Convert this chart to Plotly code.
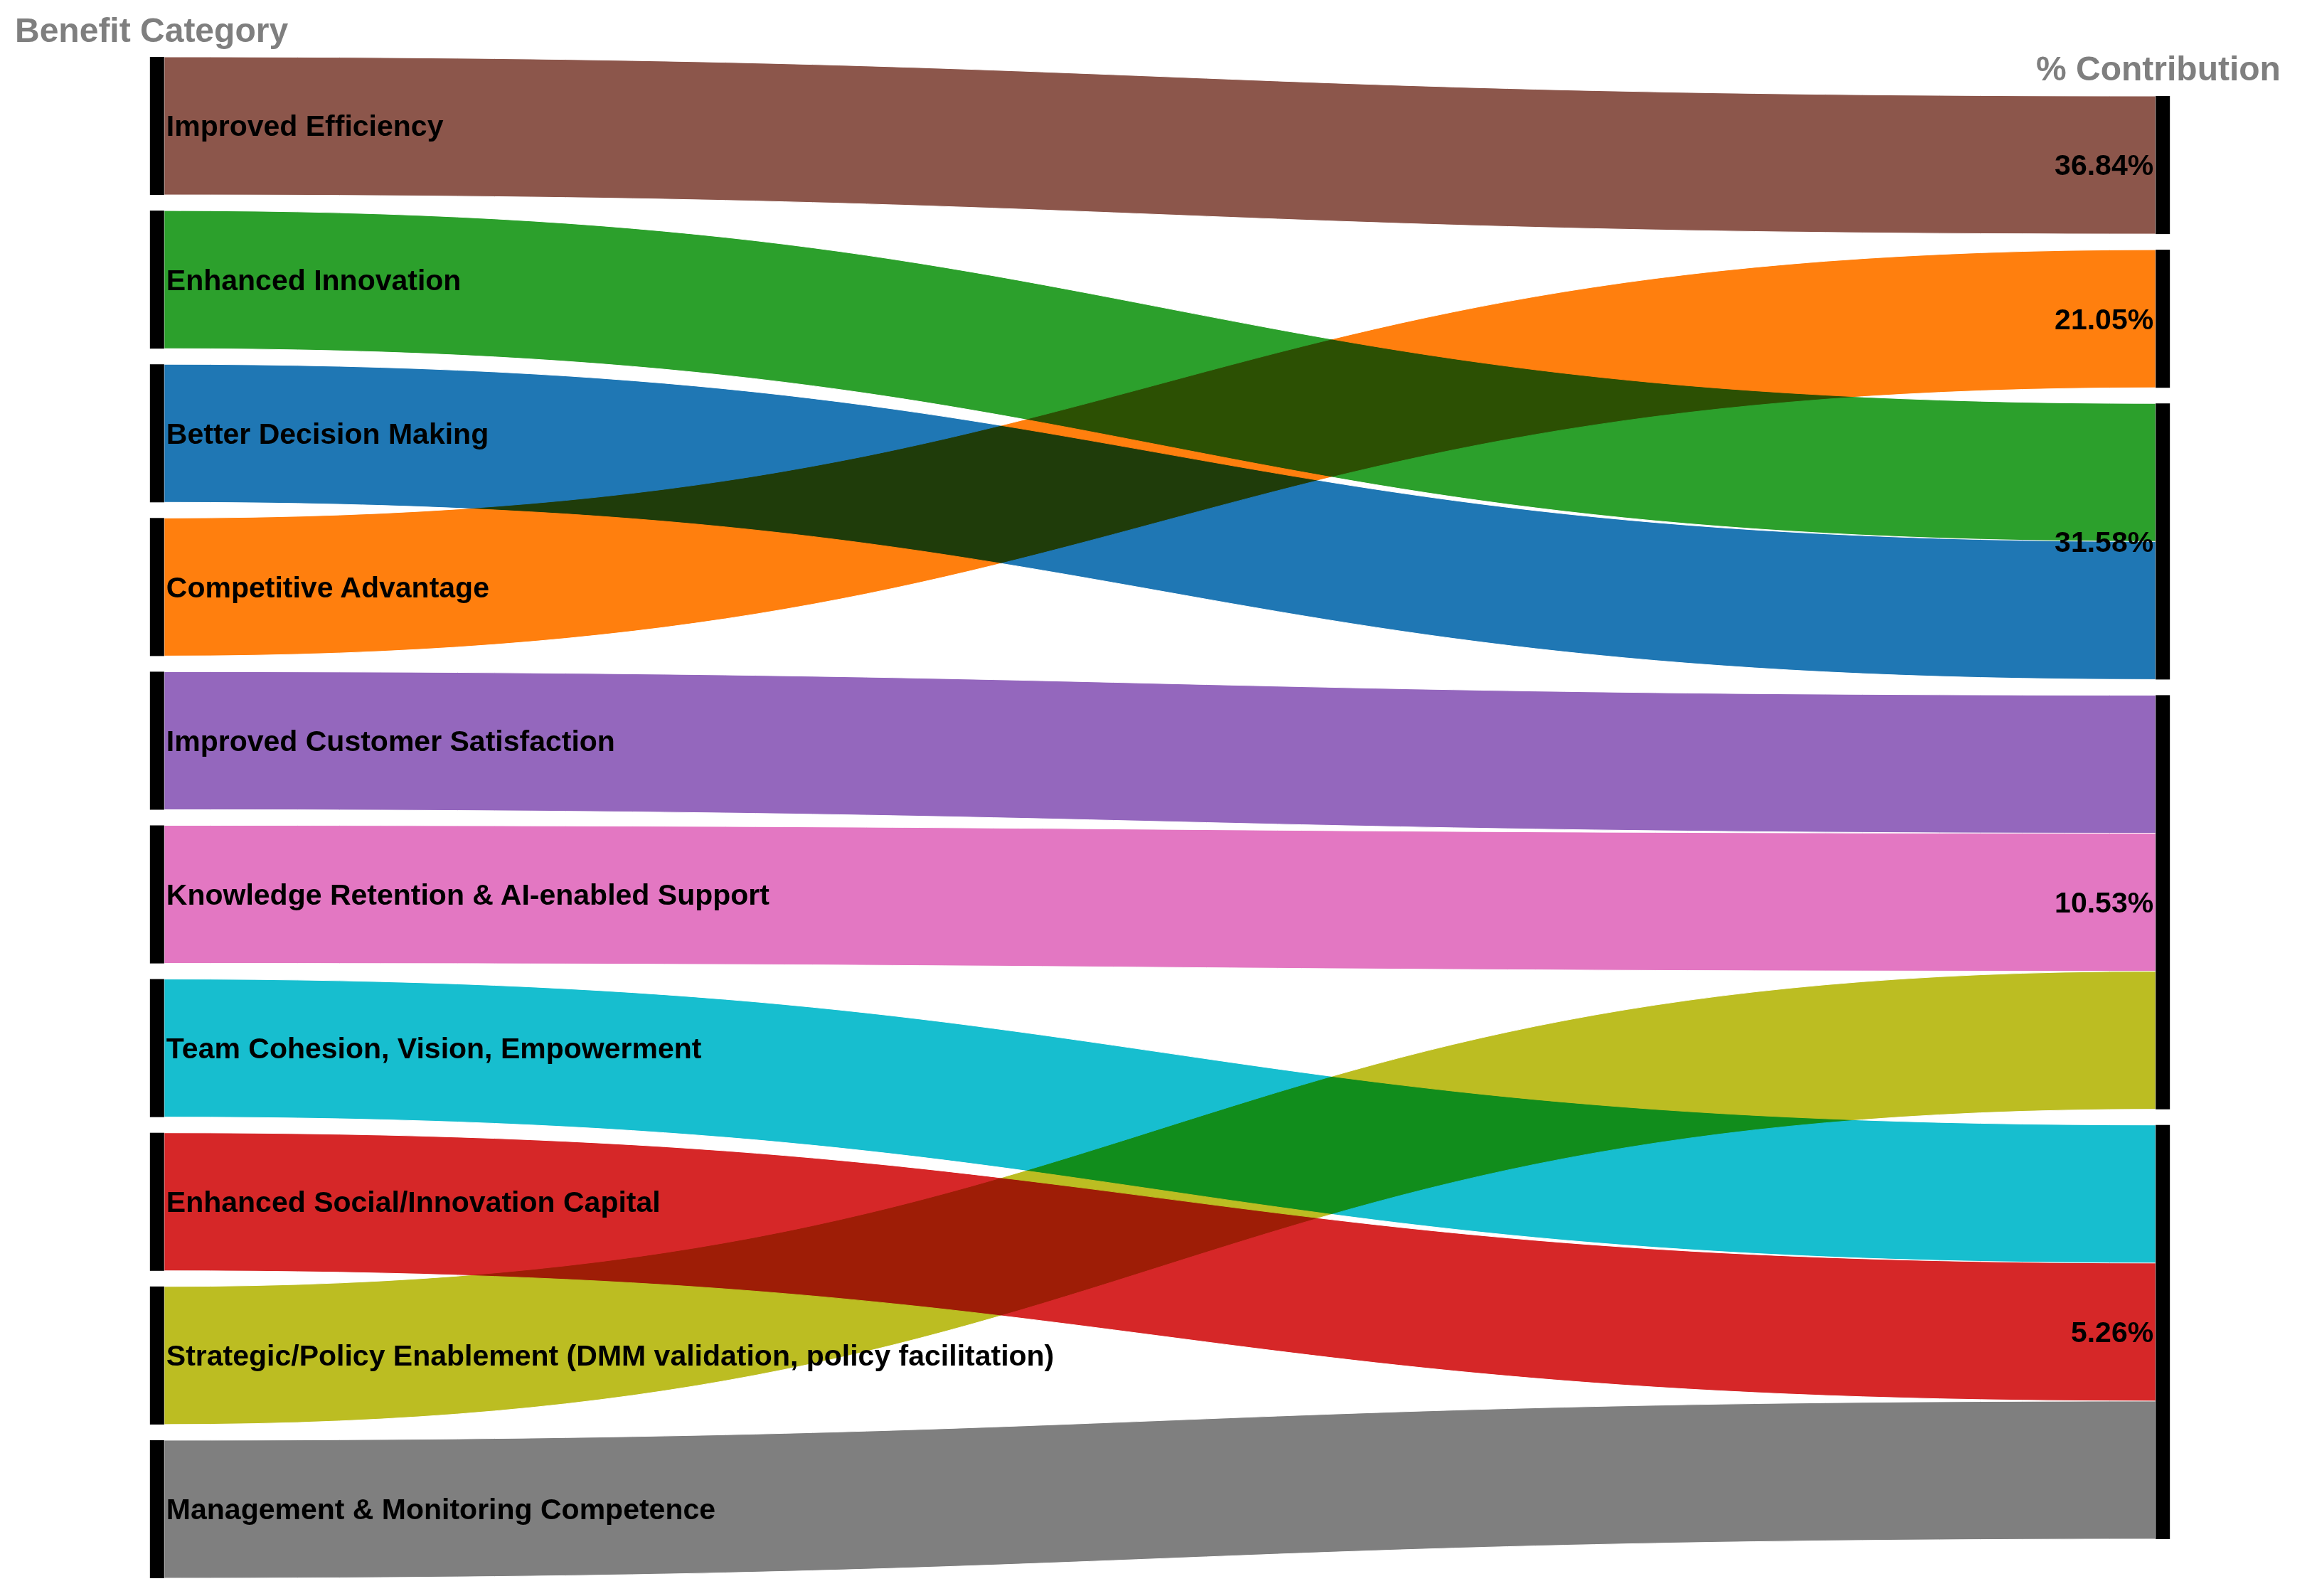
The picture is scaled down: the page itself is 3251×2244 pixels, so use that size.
import plotly.graph_objects as go

categories = [
    "Improved Efficiency",
    "Enhanced Innovation",
    "Better Decision Making",
    "Competitive Advantage",
    "Improved Customer Satisfaction",
    "Knowledge Retention & AI-enabled Support",
    "Team Cohesion, Vision, Empowerment",
    "Enhanced Social/Innovation Capital",
    "Strategic/Policy Enablement (DMM validation, policy facilitation)",
    "Management & Monitoring Competence",
]
contribution = ["36.84%", "31.58%", "31.58%", "21.05%", "10.53%",
                "10.53%", "5.26%", "5.26%", "10.53%", "5.26%"]
contribution_nodes = ["36.84%", "21.05%", "31.58%", "10.53%", "5.26%"]
counts = [1, 1, 1, 1, 1, 1, 1, 1, 1, 1]
colors = ["#8c564b", "#2ca02c", "#1f77b4", "#ff7f0e", "#9467bd",
          "#e377c2", "#17becf", "#d62728", "#bcbd22", "#7f7f7f"]

# ---- layout settings ----
W, H = 3251, 2244
M = dict(l=210, r=215, t=72, b=33)
PAD = 22
THICK = 20

labels = categories + contribution_nodes
source = list(range(len(categories)))
target = [len(categories) + contribution_nodes.index(c) for c in contribution]

# node ordering: keep the given order within each column (stacked, centred)
plot_h = H - M["t"] - M["b"]
n_left = len(categories)
total = sum(counts)
unit = (plot_h - (n_left - 1) * PAD) / total  # px per count unit

def stack_centres(sizes):
    span = sum(s * unit for s in sizes) + (len(sizes) - 1) * PAD
    y = (plot_h - span) / 2
    out = []
    for s in sizes:
        hgt = s * unit
        out.append((y + hgt / 2) / plot_h)
        y += hgt + PAD
    return out

right_sizes = [sum(v for v, c in zip(counts, contribution) if c == n) for n in contribution_nodes]
node_y = stack_centres(counts) + stack_centres(right_sizes)
node_x = [0.001] * n_left + [0.999] * len(contribution_nodes)

fig = go.Figure(go.Sankey(
    arrangement="fixed",
    node=dict(
        label=labels,
        x=node_x,
        y=node_y,
        color="black",
        thickness=THICK,
        pad=PAD,
        line=dict(width=0),
    ),
    link=dict(
        source=source,
        target=target,
        value=counts,
        color=colors,
        line=dict(color="white", width=1),
    ),
    textfont=dict(size=41, color="black", family="Arial", weight="bold", shadow="none"),
))

fig.add_annotation(text="Benefit Category", x=0, y=1, xref="paper", yref="paper",
                   xanchor="center", yanchor="bottom", showarrow=False, yshift=9, xshift=-5,
                   font=dict(size=48, color="#7f7f7f", family="Arial", weight="bold"))
fig.add_annotation(text="% Contribution", x=1, y=1, xref="paper", yref="paper",
                   xanchor="center", yanchor="bottom", showarrow=False, yshift=-45, xshift=-9,
                   font=dict(size=48, color="#7f7f7f", family="Arial", weight="bold"))

fig.update_layout(
    width=W, height=H,
    margin=M,
    paper_bgcolor="white",
    plot_bgcolor="white",
)

post = """
var s = document.createElement('style');
s.textContent = '.sankey-link { mix-blend-mode: multiply; }';
document.head.appendChild(s);
"""

fig.write_html("out.html", post_script=post)
